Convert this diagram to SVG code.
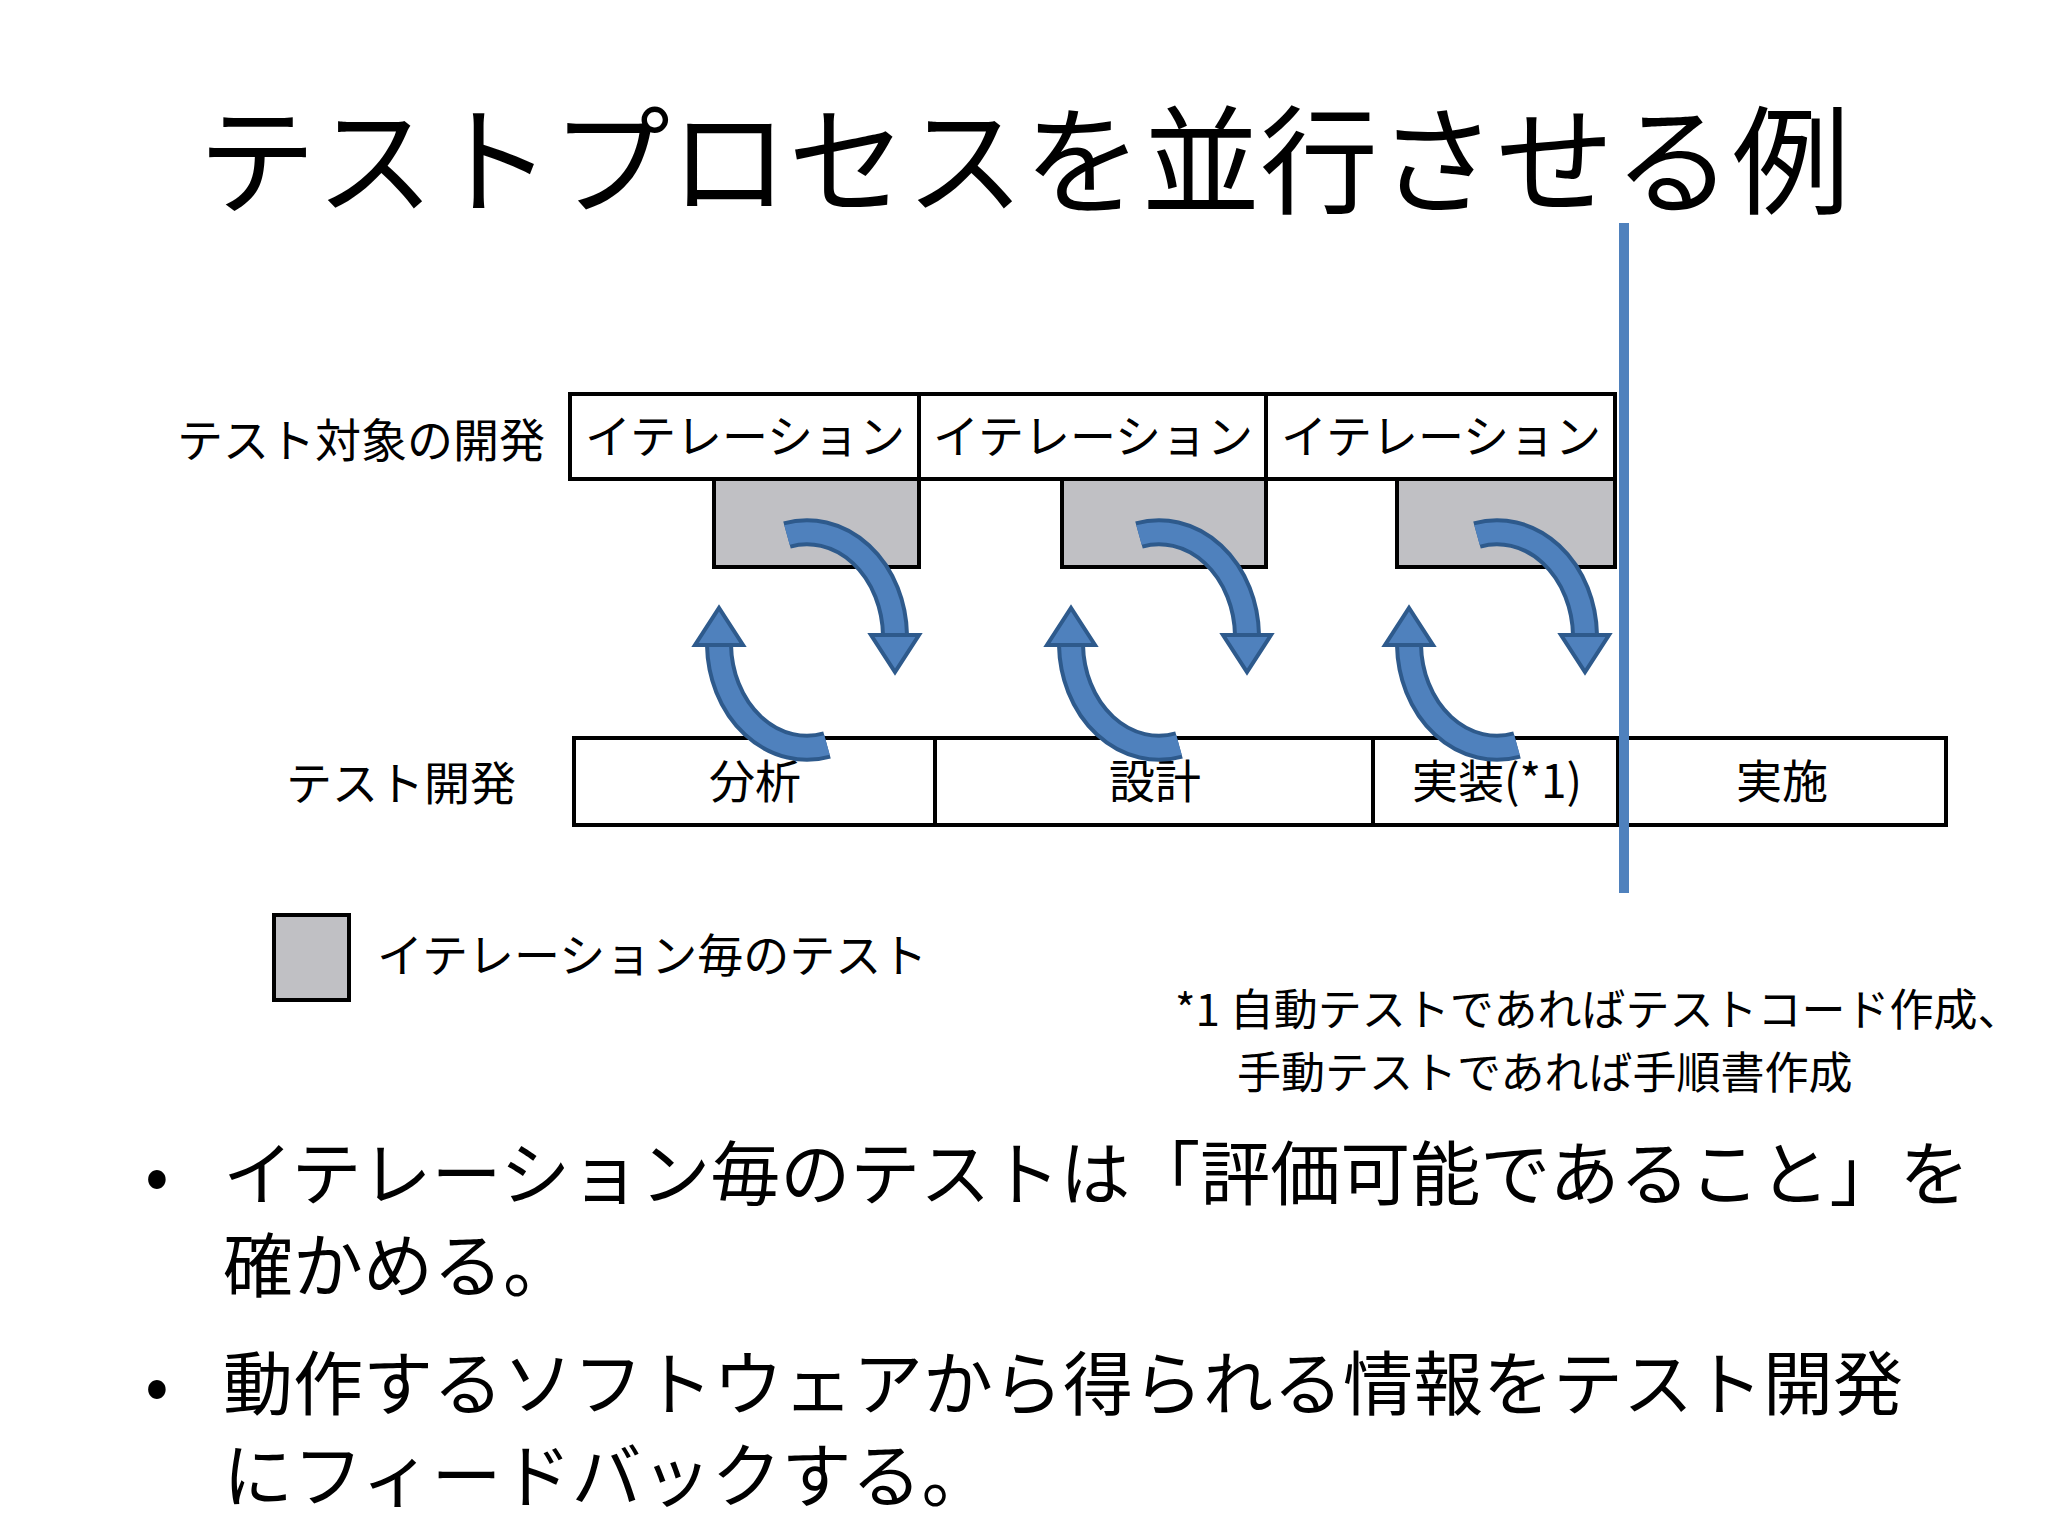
<svg xmlns="http://www.w3.org/2000/svg" xmlns:xlink="http://www.w3.org/1999/xlink" width="2048" height="1536" viewBox="0 0 2048 1536">
<style>
text{font-family:"Noto Sans CJK JP","Noto Sans",sans-serif;fill:#000}
.box{fill:#fff;stroke:#000;stroke-width:4}
.gray{fill:#c0c0c4;stroke:#000;stroke-width:4}
.lbl{font-size:46px;text-anchor:middle}
.big{font-size:70px}
.ao{fill:none;stroke:#2e5a8c;stroke-width:28}
.ai{fill:none;stroke:#4f81bd;stroke-width:20}
.ah{fill:#4f81bd;stroke:#2e5a8c;stroke-width:4}
</style>
<defs>
<g id="cyc">
<path class="ao" d="M -20,-105 A 88 105 0 0 1 88 -5"/>
<path class="ao" d="M 20,105 A 88 105 0 0 1 -88 5"/>
<path class="ai" d="M -20,-105 A 88 105 0 0 1 88 -5"/>
<path class="ai" d="M 20,105 A 88 105 0 0 1 -88 5"/>
<polygon class="ah" points="64,-5 112,-5 88,32"/>
<polygon class="ah" points="-112,5 -64,5 -88,-32"/>
</g>
</defs>
<rect width="2048" height="1536" fill="#fff"/>
<text x="1024" y="205" font-size="118" text-anchor="middle">テストプロセスを並行させる例</text>
<g id="labels">
<text x="177" y="457" font-size="46">テスト対象の開発</text>
<text x="286" y="800" font-size="46">テスト開発</text>
</g>
<g id="iter1"><rect class="box" x="570" y="394" width="349" height="85"/><text class="lbl" x="745" y="453">イテレーション</text></g>
<g id="iter2"><rect class="box" x="919" y="394" width="347" height="85"/><text class="lbl" x="1093" y="453">イテレーション</text></g>
<g id="iter3"><rect class="box" x="1266" y="394" width="349" height="85"/><text class="lbl" x="1441" y="453">イテレーション</text></g>
<g id="test1"><rect class="gray" x="714" y="479" width="205" height="88"/></g>
<g id="test2"><rect class="gray" x="1062" y="479" width="204" height="88"/></g>
<g id="test3"><rect class="gray" x="1397" y="479" width="218" height="88"/></g>
<g id="bunseki"><rect class="box" x="574" y="738" width="361" height="87"/><text class="lbl" x="755" y="798">分析</text></g>
<g id="sekkei"><rect class="box" x="935" y="738" width="438" height="87"/><text class="lbl" x="1155" y="798">設計</text></g>
<g id="jisso"><rect class="box" x="1373" y="738" width="245" height="87"/><text class="lbl" x="1497" y="798">実装(*1)</text></g>
<g id="jisshi"><rect class="box" x="1618" y="738" width="328" height="87"/><text class="lbl" x="1782" y="798">実施</text></g>
<g id="connectors">
<use xlink:href="#cyc" x="807" y="640"/>
<use xlink:href="#cyc" x="1159" y="640"/>
<use xlink:href="#cyc" x="1497" y="640"/>
<line x1="1624" y1="223" x2="1624" y2="893" stroke="#4f81bd" stroke-width="10"/>
</g>
<g id="legend">
<rect class="gray" x="274" y="915" width="75" height="85"/>
<text x="377" y="972" font-size="46">イテレーション毎のテスト</text>
</g>
<g id="footnote">
<text x="1175" y="1026" font-size="44">*1 自動テストであればテストコード作成、</text>
<text x="1237" y="1089" font-size="44">手動テストであれば手順書作成</text>
</g>
<g id="bullets">
<text x="145" y="1200" class="big">•</text>
<text x="223" y="1200" class="big">イテレーション毎のテストは「評価可能であること」を</text>
<text x="223" y="1292" class="big">確かめる。</text>
<text x="145" y="1410" class="big">•</text>
<text x="223" y="1410" class="big">動作するソフトウェアから得られる情報をテスト開発</text>
<text x="223" y="1502" class="big">にフィードバックする。</text>
</g>
</svg>
